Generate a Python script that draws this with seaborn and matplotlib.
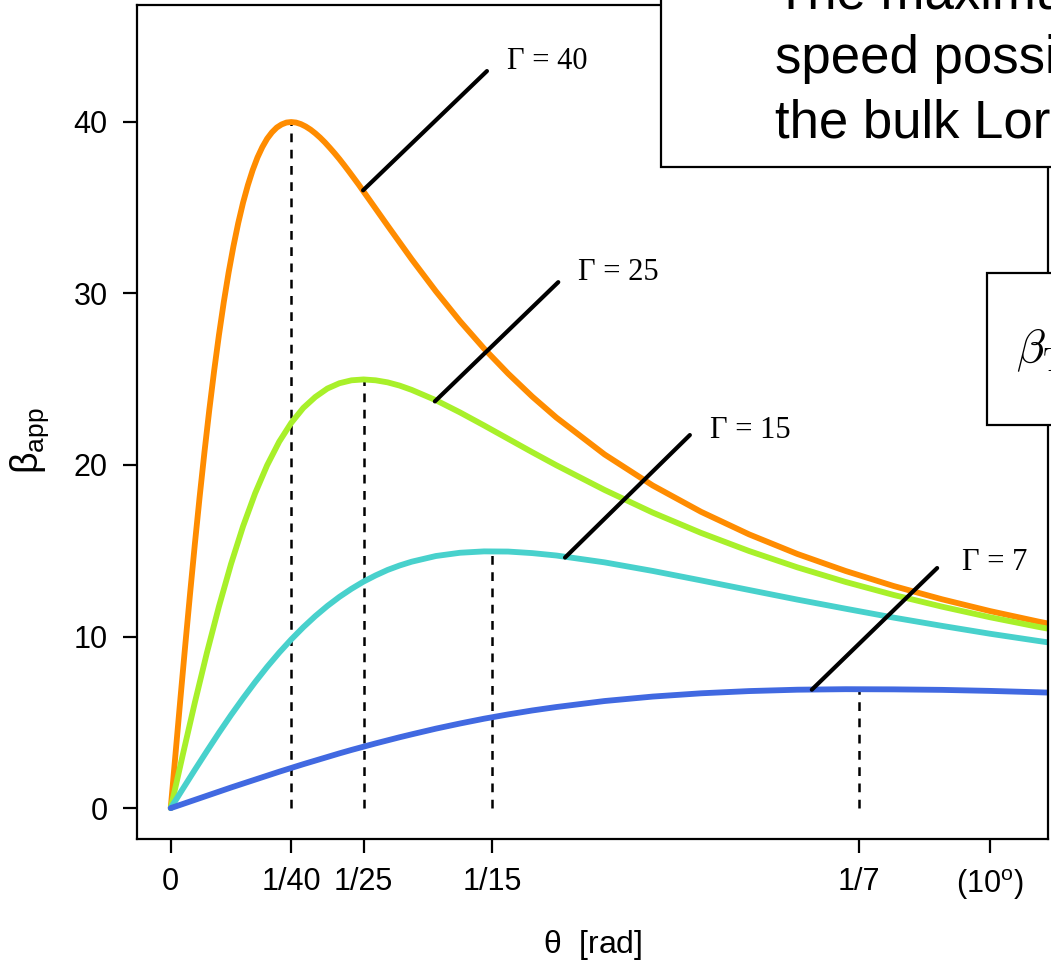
import matplotlib
matplotlib.use("Agg")
import matplotlib.pyplot as plt
from matplotlib.patches import Rectangle
import seaborn as sns
import pandas as pd

# apparent speed beta_app vs viewing angle theta
theta_g40 = [0, 0.001, 0.002, 0.003, 0.004, 0.005, 0.006, 0.007, 0.008, 0.009,
             0.010, 0.011, 0.012, 0.013, 0.014, 0.015, 0.016, 0.017, 0.018, 0.019,
             0.020, 0.021, 0.022, 0.023, 0.024, 0.025, 0.026, 0.027, 0.028, 0.029,
             0.030, 0.031, 0.032, 0.033, 0.034, 0.035, 0.036, 0.037, 0.038, 0.039,
             0.040, 0.045, 0.050, 0.055, 0.060, 0.065, 0.070, 0.075, 0.080,
             0.09, 0.10, 0.11, 0.12, 0.13, 0.14, 0.15, 0.16, 0.17, 0.18, 0.19]
beta_g40 = [0, 3.19, 6.36, 9.46, 12.47, 15.38, 18.15, 20.76, 23.21, 25.48,
            27.57, 29.48, 31.20, 32.73, 34.09, 35.28, 36.30, 37.18, 37.92, 38.52,
            39.01, 39.38, 39.66, 39.84, 39.95, 39.98, 39.95, 39.86, 39.72, 39.54,
            39.32, 39.07, 38.79, 38.48, 38.16, 37.82, 37.46, 37.09, 36.71, 36.33,
            35.93, 33.94, 31.98, 30.12, 28.38, 26.78, 25.32, 23.98, 22.76,
            20.61, 18.80, 17.27, 15.95, 14.81, 13.82, 12.94, 12.17, 11.48, 10.87, 10.31]

theta = [0, 0.0025, 0.005, 0.0075, 0.01, 0.0125, 0.015, 0.0175, 0.02, 0.0225,
         0.025, 0.0275, 0.03, 0.0325, 0.035, 0.0375, 0.04, 0.0425, 0.045, 0.0475,
         0.05, 0.055, 0.06, 0.065, 0.07, 0.075, 0.08, 0.09, 0.10, 0.11,
         0.12, 0.13, 0.14, 0.15, 0.16, 0.17, 0.18, 0.19]
beta_g25 = [0, 3.11, 6.15, 9.05, 11.75, 14.22, 16.42, 18.34, 19.98, 21.35,
            22.45, 23.32, 23.96, 24.45, 24.76, 24.93, 24.98, 24.93, 24.81, 24.62,
            24.37, 23.77, 23.06, 22.30, 21.52, 20.74, 19.98, 18.54, 17.22, 16.04,
            14.98, 14.03, 13.18, 12.42, 11.74, 11.12, 10.56, 10.05]
beta_g15 = [0, 1.12, 2.23, 3.32, 4.39, 5.42, 6.40, 7.34, 8.23, 9.06,
            9.83, 10.54, 11.19, 11.78, 12.31, 12.78, 13.20, 13.56, 13.88, 14.14,
            14.36, 14.69, 14.88, 14.96, 14.95, 14.86, 14.72, 14.32, 13.82, 13.27,
            12.71, 12.15, 11.62, 11.10, 10.62, 10.16, 9.74, 9.34]
beta_g7 = [0, 0.24, 0.48, 0.72, 0.96, 1.20, 1.43, 1.66, 1.89, 2.12,
           2.34, 2.56, 2.77, 2.98, 3.19, 3.39, 3.58, 3.77, 3.95, 4.13,
           4.30, 4.63, 4.93, 5.21, 5.46, 5.69, 5.89, 6.24, 6.50, 6.69,
           6.82, 6.90, 6.93, 6.92, 6.89, 6.83, 6.75, 6.66]

gammas = ["40", "25", "15", "7"]
colors = ["#FF8C00", "#A8F02A", "#48D1CC", "#4169E1"]
peak_theta = [1 / 40, 1 / 25, 1 / 15, 1 / 7]
peak_beta = [39.98, 24.98, 14.97, 6.93]

tick_pos = [0, 1 / 40, 1 / 25, 1 / 15, 1 / 7, 0.17]
tick_labels = ["0", "1/40", "1/25", "1/15", "1/7", r"$(10^{\mathrm{o}})$"]

# label leader lines: (curve point) -> (line end), label just past the end
lead_start = [(0.0399, 36.0), (0.0548, 23.7), (0.0818, 14.6), (0.1330, 6.9)]
lead_end = [(0.0656, 42.95), (0.0804, 30.65), (0.1077, 21.74), (0.1590, 13.99)]
label_pos = [(0.0698, 43.5), (0.0845, 31.2), (0.1119, 22.0), (0.1642, 14.33)]

frames = [pd.DataFrame({"theta": theta_g40, "beta": beta_g40, "gamma": "40"})]
for g, b in zip(["25", "15", "7"], [beta_g25, beta_g15, beta_g7]):
    frames.append(pd.DataFrame({"theta": theta, "beta": b, "gamma": g}))
df = pd.concat(frames, ignore_index=True)

sns.set_style("ticks")
plt.rcParams["font.family"] = ["Liberation Sans", "DejaVu Sans"]
plt.rcParams["mathtext.fontset"] = "custom"
plt.rcParams["mathtext.rm"] = "Liberation Sans"
plt.rcParams["mathtext.it"] = "Liberation Sans:italic"
plt.rcParams["mathtext.bf"] = "Liberation Sans:bold"
plt.rcParams["text.color"] = "black"
plt.rcParams["axes.labelcolor"] = "black"

fig = plt.figure(figsize=(10.51, 9.65), dpi=100)
ax = fig.add_axes([137 / 1051, 126 / 965, 911 / 1051, 834 / 965])

# dashed markers under the peaks
for x, y in zip(peak_theta, peak_beta):
    ax.plot([x, x], [0, y], color="black", lw=1.8, dashes=(3.5, 3), zorder=1)

sns.lineplot(data=df, x="theta", y="beta", hue="gamma", hue_order=gammas,
             palette=dict(zip(gammas, colors)), linewidth=4.2,
             estimator=None, sort=False, legend=False, ax=ax, zorder=2)

for (x0, y0), (x1, y1), (tx, ty), g in zip(lead_start, lead_end, label_pos, gammas):
    ax.plot([x0, x1], [y0, y1], color="black", lw=3.0, solid_capstyle="round", zorder=3)
    ax.text(tx, ty, "\u0393 = " + g, fontsize=22, family="Liberation Serif",
            ha="left", va="center")

ax.set_xlim(-0.007, 0.182)
ax.set_ylim(-1.8, 46.8)
ax.set_xticks(tick_pos)
ax.set_xticklabels(tick_labels)
ax.set_yticks([0, 10, 20, 30, 40])
ax.tick_params(axis="both", direction="out", length=10, width=1.6,
               labelsize=22, colors="black")
ax.tick_params(axis="x", pad=10)
ax.tick_params(axis="y", pad=11)
for s in ax.spines.values():
    s.set_visible(True)
    s.set_color("black")
    s.set_linewidth(1.6)

ax.set_xlabel(r"$\mathrm{\theta}$  [rad]", fontsize=23)
ax.xaxis.set_label_coords(0.5, -0.127)
ax.xaxis.label.set_va("center")
ax.set_ylabel(r"$\mathrm{\beta}_{\mathrm{app}}$", fontsize=27)
ax.yaxis.set_label_coords(-0.1175, 0.478)
ax.yaxis.label.set_va("center")

# overlaid slide boxes, cut off by the right edge of the page
fig.add_artist(Rectangle((661 / 1051, 798 / 965), 0.5, 0.3, transform=fig.transFigure,
                         facecolor="white", edgecolor="black", lw=1.6, zorder=5))
for yb, line in zip([9, 73, 138], ["The maximum apparent", "speed possible for",
                                   "the bulk Lorentz factor"]):
    fig.text(775 / 1051, 1 - yb / 965, line, fontsize=38, family="Liberation Sans",
             va="baseline", ha="left", zorder=6)

fig.add_artist(Rectangle((987 / 1051, 540 / 965), 0.2, 152 / 965, transform=fig.transFigure,
                         facecolor="white", edgecolor="black", lw=1.6, zorder=5))
fig.text(1016 / 1051, 1 - 350 / 965, r"$\beta_{\rm T}$", fontsize=34,
         math_fontfamily="cm", va="center", ha="left", zorder=6)

fig.savefig("out.png", dpi=100)
